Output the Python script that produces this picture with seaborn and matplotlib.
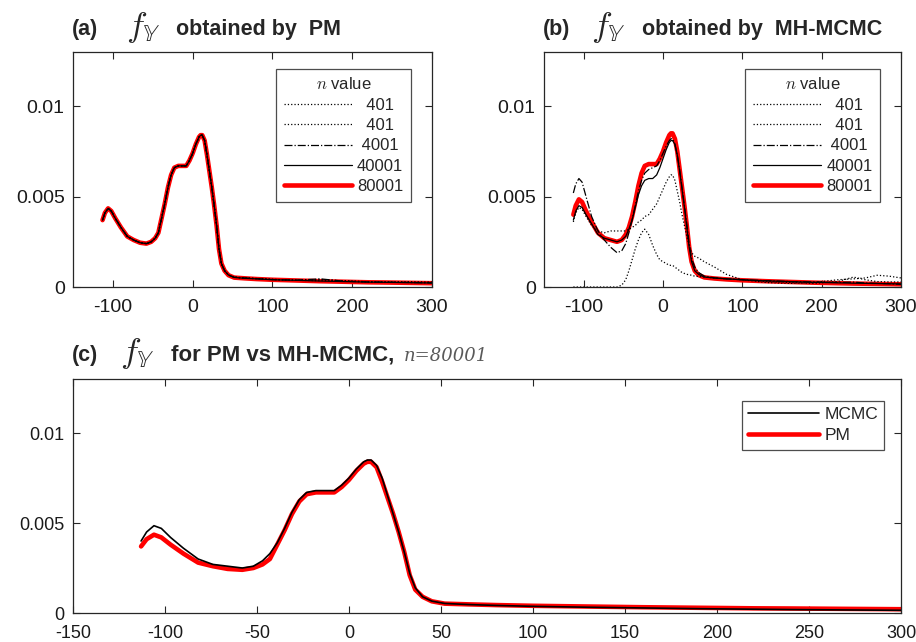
import matplotlib
matplotlib.use("Agg")
import matplotlib.pyplot as plt
import seaborn as sns

# Shared sample positions
x = [-113, -110, -106, -102, -97, -90, -82, -74, -66, -58, -52, -47, -43, -39, -35,
     -31, -27, -23, -18, -13, -8, -4, 0, 4, 8, 10, 12, 15, 18, 21, 24, 27, 30, 33,
     36, 40, 45, 52, 65, 80, 100, 130, 160, 190, 220, 240, 255, 270, 285, 300]

# PM densities, panel (a)
pm_80001 = [0.0037, 0.0041, 0.00435, 0.0042, 0.0038, 0.0033, 0.0028, 0.0026, 0.00245, 0.0024,
            0.0025, 0.0027, 0.0030, 0.0038, 0.0046, 0.0055, 0.0062, 0.0066, 0.0067, 0.0067,
            0.0067, 0.0070, 0.0074, 0.0079, 0.0083, 0.0084, 0.0084, 0.0081, 0.0073, 0.0064,
            0.0055, 0.0045, 0.0034, 0.0021, 0.0013, 0.0009, 0.00065, 0.00052, 0.00048, 0.00044,
            0.0004, 0.00036, 0.00032, 0.00029, 0.00026, 0.00025, 0.00024, 0.00023, 0.00022, 0.00021]
pm_40001 = [0.0037, 0.0041, 0.00435, 0.0042, 0.0038, 0.0033, 0.0028, 0.0026, 0.00245, 0.0024,
            0.0025, 0.0027, 0.0030, 0.0038, 0.0046, 0.0055, 0.0062, 0.0066, 0.0067, 0.0067,
            0.0067, 0.0070, 0.0074, 0.0079, 0.0083, 0.0084, 0.0084, 0.0081, 0.0073, 0.0064,
            0.0055, 0.0045, 0.0034, 0.0021, 0.0013, 0.0009, 0.00066, 0.00053, 0.00048, 0.00045,
            0.0004, 0.00037, 0.00033, 0.0003, 0.00027, 0.00026, 0.00025, 0.00024, 0.00023, 0.00022]
pm_4001 = [0.0037, 0.0041, 0.00435, 0.0042, 0.0038, 0.0033, 0.0028, 0.0026, 0.00245, 0.0024,
           0.0025, 0.0027, 0.0030, 0.0038, 0.0046, 0.0055, 0.0062, 0.0066, 0.0067, 0.0067,
           0.0067, 0.0070, 0.0074, 0.0079, 0.0083, 0.0084, 0.0084, 0.0081, 0.0073, 0.0064,
           0.0055, 0.0045, 0.0034, 0.0021, 0.0013, 0.0009, 0.00066, 0.00054, 0.0005, 0.00046,
           0.00041, 0.00038, 0.00045, 0.00032, 0.00028, 0.00027, 0.00026, 0.00025, 0.00024, 0.00023]
pm_401a = [0.0037, 0.0041, 0.00435, 0.0042, 0.0038, 0.0033, 0.0028, 0.0026, 0.00245, 0.0024,
           0.0025, 0.0027, 0.0030, 0.0038, 0.0046, 0.0055, 0.0062, 0.0066, 0.0067, 0.0067,
           0.0067, 0.0070, 0.0074, 0.0079, 0.0083, 0.0084, 0.0084, 0.0081, 0.0073, 0.0064,
           0.0055, 0.0045, 0.0034, 0.0021, 0.0013, 0.0009, 0.00067, 0.00055, 0.0005, 0.00047,
           0.00042, 0.00038, 0.00042, 0.00033, 0.00029, 0.00028, 0.00028, 0.00029, 0.00028, 0.00027]
pm_401b = [0.0037, 0.0041, 0.00435, 0.0042, 0.0038, 0.0033, 0.0028, 0.0026, 0.00245, 0.0024,
           0.0025, 0.0027, 0.0030, 0.0038, 0.0046, 0.0055, 0.0062, 0.0066, 0.0067, 0.0067,
           0.0067, 0.0070, 0.0074, 0.0079, 0.0083, 0.0084, 0.0084, 0.0081, 0.0073, 0.0064,
           0.0055, 0.0045, 0.0034, 0.0021, 0.0013, 0.0009, 0.00066, 0.00054, 0.00049, 0.00046,
           0.00042, 0.00037, 0.00035, 0.00034, 0.00029, 0.00027, 0.00026, 0.00026, 0.00025, 0.00025]

# MH-MCMC densities, panel (b)
mc_80001 = [0.0040, 0.0045, 0.00485, 0.0047, 0.0042, 0.0036, 0.0030, 0.0027, 0.0026, 0.0025,
            0.0026, 0.0029, 0.0033, 0.0039, 0.0047, 0.0056, 0.0063, 0.0067, 0.0068, 0.0068,
            0.0068, 0.0071, 0.0075, 0.0080, 0.0084, 0.0085, 0.0085, 0.0082, 0.0075, 0.0065,
            0.0055, 0.0045, 0.0034, 0.0022, 0.0014, 0.0009, 0.00066, 0.00053, 0.00047, 0.00042,
            0.00037, 0.00032, 0.00028, 0.00024, 0.00021, 0.00019, 0.00018, 0.00017, 0.00016, 0.00015]
mc_40001 = [0.0037, 0.0042, 0.0045, 0.0044, 0.0040, 0.0035, 0.0029, 0.0027, 0.0026, 0.0025,
            0.0026, 0.0028, 0.0032, 0.0037, 0.0044, 0.0051, 0.0056, 0.0059, 0.0060, 0.0060,
            0.0062, 0.0066, 0.0071, 0.0076, 0.0080, 0.0081, 0.0081, 0.0079, 0.0073, 0.0064,
            0.0054, 0.0044, 0.0033, 0.0022, 0.0014, 0.0009, 0.0007, 0.00055, 0.0005, 0.00045,
            0.0004, 0.00034, 0.0003, 0.00026, 0.00023, 0.00021, 0.0002, 0.00019, 0.00018, 0.00017]
mc_4001 = [0.0052, 0.0057, 0.0060, 0.0058, 0.0050, 0.0039, 0.0031, 0.0026, 0.0022, 0.0019,
           0.0020, 0.0024, 0.0030, 0.0037, 0.0045, 0.0053, 0.0059, 0.0063, 0.0065, 0.0066,
           0.0067, 0.0070, 0.0074, 0.0078, 0.0081, 0.0082, 0.0082, 0.0079, 0.0073, 0.0065,
           0.0055, 0.0045, 0.0035, 0.0024, 0.0016, 0.0011, 0.0008, 0.0006, 0.0005, 0.00045,
           0.0004, 0.00035, 0.0003, 0.00028, 0.00025, 0.00027, 0.00022, 0.0002, 0.00018, 0.00015]
mc_401a = [0.0036, 0.0041, 0.0044, 0.0043, 0.0039, 0.0034, 0.0031, 0.0030, 0.0031, 0.0031,
           0.0031, 0.0031, 0.0032, 0.0033, 0.0034, 0.0036, 0.0037, 0.0039, 0.0040, 0.0043,
           0.0046, 0.0050, 0.0054, 0.0058, 0.0061, 0.0062, 0.0062, 0.0059, 0.0053, 0.0047,
           0.0040, 0.0034, 0.0028, 0.0023, 0.0019, 0.0017, 0.0016, 0.0014, 0.0011, 0.0007,
           0.0004, 0.00025, 0.0002, 0.00025, 0.0004, 0.00045, 0.0005, 0.00065, 0.0006, 0.0005]
mc_401b = [0.0, 0.0, 0.0, 0.0, 0.0, 0.0, 0.0, 0.0, 0.0, 0.0,
           0.0001, 0.0004, 0.0009, 0.0015, 0.0021, 0.0026, 0.0030, 0.0032, 0.0029, 0.0023,
           0.0018, 0.0015, 0.0014, 0.0013, 0.0012, 0.0012, 0.0012, 0.0011, 0.0010, 0.0009,
           0.0008, 0.00075, 0.0007, 0.00068, 0.00065, 0.0006, 0.00058, 0.00055, 0.0005, 0.00045,
           0.0004, 0.0003, 0.00025, 0.0002, 0.0003, 0.00055, 0.0004, 0.0003, 0.00028, 0.00028]

n_labels = ["401", "401", "4001", "40001", "80001"]
yticks = [0, 0.005, 0.01]
ytick_labels = ["0", "0.005", "0.01"]

W, H = 916, 642

sns.set_style("ticks")
plt.rcParams["font.family"] = ["Liberation Sans", "DejaVu Sans"]
plt.rcParams["mathtext.fontset"] = "cm"
plt.rcParams["axes.edgecolor"] = "0.15"
plt.rcParams["xtick.color"] = "0.15"
plt.rcParams["ytick.color"] = "0.15"

fig = plt.figure(figsize=(W / 100, H / 100), dpi=100)


def px_axes(l, t, r, b):
    return fig.add_axes([l / W, 1 - b / H, (r - l) / W, (b - t) / H])


def px_text(px, py, s, **kw):
    fig.text(px / W, 1 - py / H, s, va="baseline", ha="left", **kw)


def style_axes(ax, xticks, fs, xpad):
    ax.set_xlim(-150, 300)
    ax.set_ylim(0, 0.013)
    ax.set_xticks(xticks)
    ax.set_xticklabels([str(v) for v in xticks])
    ax.set_yticks(yticks)
    ax.set_yticklabels(ytick_labels)
    ax.tick_params(direction="in", length=5, width=0.8, labelsize=fs,
                   top=True, right=True, labelcolor="0.1", pad=6)
    ax.tick_params(axis="x", pad=xpad)
    for sp in ax.spines.values():
        sp.set_visible(True)
        sp.set_linewidth(0.9)
    ax.set_xlabel("")
    ax.set_ylabel("")


def draw_panel(ax, curves, red):
    # thick red curve first so the thin black lines stay visible on top
    sns.lineplot(x=x, y=red, ax=ax, color="red", lw=3.3, zorder=1, errorbar=None)
    styles = [(":", 0.9), (":", 0.9), ("-.", 0.9), ("-", 0.9)]
    for y, (ls, lw) in zip(curves, styles):
        sns.lineplot(x=x, y=y, ax=ax, color="black", lw=lw, linestyle=ls,
                     zorder=2, errorbar=None)
    lines = ax.get_lines()
    handles = lines[1:] + lines[:1]
    labels = ["  " + n_labels[0], "  " + n_labels[1], " " + n_labels[2],
              n_labels[3], n_labels[4]]
    leg = ax.legend(handles, labels, title=r"$n$ value", loc="upper right",
                    bbox_to_anchor=(0.941, 0.928), borderaxespad=0, fontsize=12,
                    title_fontsize=12, handlelength=4.1, labelspacing=0.32,
                    handletextpad=0.3, borderpad=0.45, fancybox=False,
                    edgecolor="0.3", framealpha=1)
    leg.get_frame().set_linewidth(0.9)


# (a) PM
ax_a = px_axes(73, 52, 432, 287)
draw_panel(ax_a, [pm_401a, pm_401b, pm_4001, pm_40001], pm_80001)
style_axes(ax_a, [-100, 0, 100, 200, 300], 14, 9)

# (b) MH-MCMC
ax_b = px_axes(544, 52, 901, 287)
draw_panel(ax_b, [mc_401a, mc_401b, mc_4001, mc_40001], mc_80001)
style_axes(ax_b, [-100, 0, 100, 200, 300], 14, 9)

# (c) comparison
ax_c = px_axes(73, 379, 901, 613)
sns.lineplot(x=x, y=pm_80001, ax=ax_c, color="red", lw=3.3, zorder=1, errorbar=None)
sns.lineplot(x=x, y=mc_80001, ax=ax_c, color="black", lw=1.2, zorder=2, errorbar=None)
lc = ax_c.get_lines()
leg = ax_c.legend([lc[1], lc[0]], ["MCMC", "PM"], loc="upper right",
                  bbox_to_anchor=(0.9795, 0.906), borderaxespad=0, fontsize=12.5,
                  handlelength=4.1, labelspacing=0.35, handletextpad=0.3,
                  borderpad=0.35, fancybox=False, edgecolor="0.3", framealpha=1)
leg.get_frame().set_linewidth(0.9)
style_axes(ax_c, [-150, -100, -50, 0, 50, 100, 150, 200, 250, 300], 13, 9)

# titles
fy = r"$f_{\mathbb{Y}}$"
px_text(72, 35, "(a)", fontsize=15.5, fontweight="bold")
px_text(126, 36, fy, fontsize=25)
px_text(176, 35, "obtained by  PM", fontsize=15.5, fontweight="bold")

px_text(543, 35, "(b)", fontsize=15.5, fontweight="bold")
px_text(591, 36, fy, fontsize=25)
px_text(642, 35, "obtained by  MH-MCMC", fontsize=15.5, fontweight="bold")

px_text(72, 361, "(c)", fontsize=15.5, fontweight="bold")
px_text(120, 362, fy, fontsize=25)
px_text(171, 361, "for PM vs MH-MCMC,", fontsize=16, fontweight="bold")
px_text(404, 361, "n=80001", fontsize=13, family="DejaVu Serif", style="italic",
        color="0.35")

fig.savefig("out.png", dpi=100)
